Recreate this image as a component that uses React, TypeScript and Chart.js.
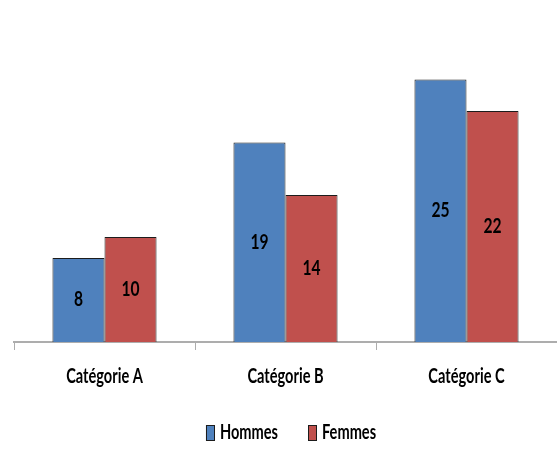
import React, { useEffect, useRef } from "react";
import { Chart, registerables } from "chart.js";

Chart.register(...registerables);

const categories = ["Catégorie A", "Catégorie B", "Catégorie C"];
const hommes = [8, 19, 25];
const femmes = [10, 14, 22];
const seriesNames = ["Hommes", "Femmes"];
const seriesColors = ["#4F81BD", "#C0504D"];

const FONT = "Lato, 'Open Sans', sans-serif";

function squeezeText(ctx: any, text: string, x: number, y: number, align: string, sx: number) {
  ctx.save();
  ctx.translate(x, y);
  ctx.scale(sx, 1);
  ctx.textAlign = align;
  ctx.fillText(text, 0, 0);
  ctx.restore();
}

const textPlugin = {
  id: "textPlugin",
  afterDatasetsDraw(chart: any) {
    const ctx = chart.ctx;
    ctx.save();
    ctx.fillStyle = "#000";
    ctx.textBaseline = "middle";
    // value labels
    ctx.font = `bold 20px ${FONT}`;
    chart.data.datasets.forEach((ds: any, i: number) => {
      const meta = chart.getDatasetMeta(i);
      meta.data.forEach((bar: any, j: number) => {
        squeezeText(ctx, String(ds.data[j]), bar.x, (bar.y + bar.base) / 2, "center", 0.78);
      });
    });
    // category labels
    const xs = chart.scales.x;
    const area = chart.chartArea;
    const SX = 0.73;
    ctx.font = `bold 20px ${FONT}`;
    chart.data.labels.forEach((lab: string, i: number) => {
      squeezeText(ctx, lab, xs.getPixelForValue(i), area.bottom + 35, "center", SX);
    });
    // legend
    const boxW = 9, boxH = 16, gapBox = 5, gapItem = 30;
    const widths = chart.data.datasets.map((ds: any) => ctx.measureText(ds.label).width * SX);
    const total = widths.reduce((a: number, w: number) => a + boxW + gapBox + w, 0) + gapItem * (widths.length - 1);
    let x = 291 - total / 2;
    const cy = area.bottom + 91;
    chart.data.datasets.forEach((ds: any, i: number) => {
      ctx.fillStyle = ds.backgroundColor;
      ctx.fillRect(x, cy - boxH / 2, boxW, boxH);
      ctx.strokeStyle = "#1c1c1c";
      ctx.lineWidth = 1;
      ctx.strokeRect(Math.round(x) + 0.5, Math.round(cy - boxH / 2) + 0.5, boxW - 1, boxH - 1);
      ctx.fillStyle = "#000";
      squeezeText(ctx, ds.label, x + boxW + gapBox, cy, "left", SX);
      x += boxW + gapBox + widths[i] + gapItem;
    });
    ctx.restore();
  },
};

export default function App() {
  const ref = useRef<HTMLCanvasElement>(null);
  useEffect(() => {
    const mk = (i: number, data: number[]) => ({
      label: seriesNames[i],
      data,
      backgroundColor: seriesColors[i],
      borderColor: "#1c1c1c",
      borderWidth: { top: 1, left: 1, right: 1, bottom: 0 },
      borderSkipped: "bottom",
    });
    const chart = new Chart(ref.current!, {
      type: "bar",
      data: {
        labels: categories,
        datasets: [mk(0, hommes), mk(1, femmes)],
      },
      options: {
        animation: false,
        responsive: false,
        maintainAspectRatio: false,
        layout: { padding: { left: 14, right: 0, top: 27, bottom: 88 } },
        datasets: { bar: { categoryPercentage: 0.575, barPercentage: 1 } },
        scales: {
          x: {
            offset: true,
            grid: {
              offset: true,
              drawOnChartArea: false,
              drawTicks: true,
              tickLength: 8,
              tickColor: "#ADADAD",
              tickWidth: 1,
            },
            border: { display: true, color: "#ADADAD", width: 2 },
            ticks: { display: false },
            afterFit: (s: any) => {
              s.height = 20;
            },
          },
          y: { display: false, min: 0, max: 30 },
        },
        plugins: {
          legend: { display: false },
          tooltip: { enabled: false },
        },
      },
      plugins: [textPlugin],
    });
    return () => chart.destroy();
  }, []);
  return (
    <div style={{ position: "absolute", left: 0, top: 0, width: 557, height: 450, background: "#fff" }}>
      <canvas ref={ref} width={557} height={450} />
    </div>
  );
}
